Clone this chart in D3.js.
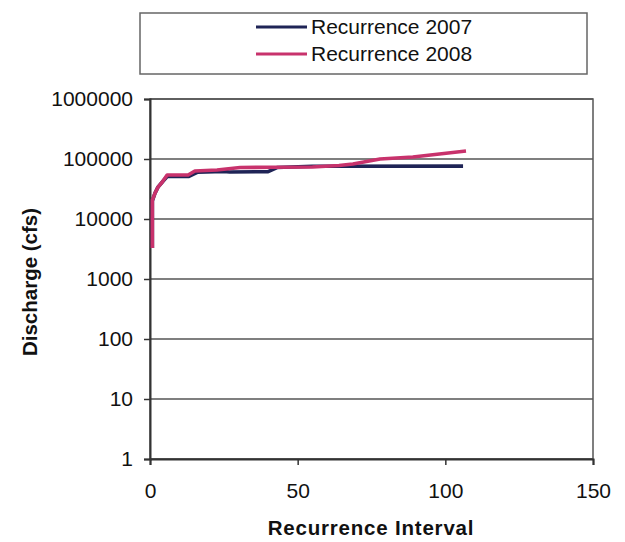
<!DOCTYPE html>
<html><head><meta charset="utf-8">
<script src="https://cdn.jsdelivr.net/npm/d3@7"></script>
<style>body{margin:0;background:#fff;} text{font-family:"Liberation Sans",Arial,sans-serif;}</style>
</head><body>
<svg id="c" width="625" height="542"></svg>
<script>
const seriesNames = ["Recurrence 2007", "Recurrence 2008"];
const seriesColors = ["#1f2456", "#c8326c"];
const x2007 = [0.8, 0.8, 1.7, 2.7, 4.1, 5.8, 13, 16, 25, 27, 40, 43, 55, 106];
const y2007 = [3300, 20000, 27000, 34000, 41000, 51000, 51000, 60000, 62000, 60700, 61500, 72000, 75500, 76000];
const x2008 = [0.8, 0.8, 1.7, 2.7, 4.1, 5.8, 12.9, 15.2, 22.7, 30.5, 42, 55, 64, 68.7, 77.9, 89, 107];
const y2008 = [3300, 20700, 27000, 34000, 41000, 54000, 54000, 63000, 65600, 72000, 73000, 73600, 78000, 82500, 100000, 108000, 136000];
const xTicks = [0, 50, 100, 150];
const yTicks = [1, 10, 100, 1000, 10000, 100000, 1000000];

const svg = d3.select("#c");
const L = 150, R = 593, T = 99, B = 459;
const x = d3.scaleLinear().domain([0, 150]).range([L, R]);
const y = d3.scaleLog().domain([1, 1000000]).range([B, T]);

// gridlines
svg.append("g").selectAll("line").data(yTicks).join("line")
  .attr("x1", L).attr("x2", R).attr("y1", d => y(d)).attr("y2", d => y(d))
  .attr("stroke", "#555").attr("stroke-width", 1.3);
// border
svg.append("rect").attr("x", L).attr("y", T).attr("width", R - L).attr("height", B - T)
  .attr("fill", "none").attr("stroke", "#555").attr("stroke-width", 1.5);

// axes
const yAxis = svg.append("g").attr("transform", `translate(${L},0)`)
  .call(d3.axisLeft(y).tickValues(yTicks).tickFormat(d3.format("d")).tickSize(6).tickPadding(11));
const xAxis = svg.append("g").attr("transform", `translate(0,${B})`)
  .call(d3.axisBottom(x).tickValues(xTicks).tickSize(6).tickPadding(18));
[yAxis, xAxis].forEach(a => {
  a.select(".domain").attr("stroke", "#333").attr("stroke-width", 2);
  a.selectAll(".tick line").attr("stroke", "#333").attr("stroke-width", 1.5);
  a.selectAll("text").attr("font-size", 21).attr("fill", "#111")
    .style("font-family", "'Liberation Sans', Arial, sans-serif");
});

// lines
const line = d3.line().x(d => x(d[0])).y(d => y(d[1]));
const data = [d3.zip(x2007, y2007), d3.zip(x2008, y2008)];
data.forEach((d, i) => {
  svg.append("path").datum(d).attr("d", line).attr("fill", "none")
    .attr("stroke", seriesColors[i]).attr("stroke-width", 3.6).attr("stroke-linejoin", "round");
});

// titles
svg.append("text").attr("transform", "translate(37,282) rotate(-90)")
  .attr("text-anchor", "middle").attr("font-size", 20.5).attr("font-weight", "bold").attr("fill", "#111")
  .text("Discharge (cfs)");
svg.append("text").attr("x", 371).attr("y", 535).attr("text-anchor", "middle")
  .attr("font-size", 20.5).attr("font-weight", "bold").attr("fill", "#111").attr("letter-spacing", 0.8)
  .text("Recurrence Interval");

// legend
svg.append("rect").attr("x", 140).attr("y", 13).attr("width", 447).attr("height", 61)
  .attr("fill", "none").attr("stroke", "#666").attr("stroke-width", 1.5);
const lg = svg.append("g").selectAll("g").data(seriesNames).join("g")
  .attr("transform", (d, i) => `translate(0,${27 + i * 27})`);
lg.append("line").attr("x1", 256).attr("x2", 307).attr("stroke", (d, i) => seriesColors[i]).attr("stroke-width", 3);
lg.append("text").attr("x", 311).attr("y", 7).attr("font-size", 21).attr("fill", "#111").text(d => d);
</script>
</body></html>
